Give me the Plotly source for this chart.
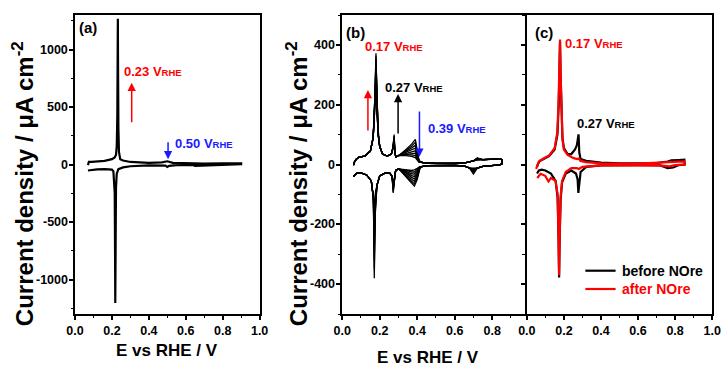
import plotly.graph_objects as go

# ---------------- Panel (a): single CV ----------------
a_E_anodic = [0.070, 0.075, 0.09, 0.12, 0.16, 0.20, 0.215, 0.222, 0.226, 0.229, 0.231, 0.232,
              0.233, 0.235, 0.238, 0.245, 0.26, 0.30, 0.40, 0.47, 0.50, 0.53, 0.60, 0.70, 0.80, 0.90]
a_j_anodic = [-5, 22, 22, 25, 32, 47, 62, 85, 160, 420, 1000, 1267,
              900, 320, 110, 45, 35, 22, 15, 18, 28, 14, 10, 8, 9, 10]
a_E_cathodic = [0.90, 0.85, 0.75, 0.66, 0.65, 0.64, 0.55, 0.51, 0.50, 0.49, 0.40, 0.30, 0.26,
                0.235, 0.226, 0.222, 0.219, 0.218, 0.217, 0.215, 0.212, 0.208, 0.20, 0.16,
                0.12, 0.09, 0.075, 0.070]
a_j_cathodic = [3, 0, -2, -5, -12, -5, -5, -12, -22, -10, -8, -15, -25,
                -40, -80, -200, -700, -1205, -800, -250, -100, -60, -45, -40,
                -42, -45, -50, -52]

# ---------------- Panel (b): successive cycles ----------------
b_E_anodic_base = [0.060, 0.065, 0.075, 0.09, 0.12, 0.15, 0.165, 0.172, 0.192, 0.20,
                   0.215, 0.24, 0.262, 0.270, 0.281, 0.286, 0.30, 0.43, 0.50,
                   0.60, 0.66, 0.70, 0.75, 0.80, 0.845, 0.852]
b_j_anodic_base = [-2, 8, 18, 25, 28, 45, 90, 170, 100, 60,
                   35, 28, 35, 55, 40, 25, 30, 6, 4,
                   4, 6, 12, 16, 17, 19, 15]
# cycle-dependent anodic points (one value per cycle)
b_E_anodic_var = [0.176, 0.180, 0.185, 0.277, 0.31, 0.34, 0.37, 0.39, 0.40, 0.41, 0.72]
b_F17 = [200, 215, 228, 240, 250, 260, 268, 276]
b_P17 = [260, 285, 305, 322, 337, 350, 362, 372]
b_S17 = [165, 180, 190, 200, 208, 216, 224, 232]
b_P27 = [65, 70, 75, 80, 85, 90, 95, 100]
b_A31 = [34, 33, 33, 32, 32, 31, 31, 30]
b_A34 = [50, 47, 44, 41, 38, 35, 33, 30]
b_A37 = [68, 61, 55, 49, 43, 37, 32, 27]
b_A39 = [84, 74, 64, 55, 46, 38, 30, 23]
b_A40 = [50, 44, 38, 32, 27, 22, 18, 15]
b_A41 = [12, 11, 10, 10, 9, 9, 8, 8]
b_A72 = [22, 21, 20, 19, 18, 17, 16, 15]

b_E_cath_base = [0.852, 0.84, 0.80, 0.75, 0.72, 0.68, 0.65, 0.60, 0.50, 0.45, 0.43,
                 0.30, 0.285, 0.278, 0.266, 0.255, 0.23, 0.20, 0.185, 0.166, 0.155,
                 0.13, 0.10, 0.08, 0.07, 0.06]
b_j_cath_base = [2, -1, -3, -6, -12, -12, -5, -3, -3, -4, -6,
                 -15, -20, -50, -40, -30, -28, -38, -70, -110, -55,
                 -35, -28, -28, -33, -40]
# cycle-dependent cathodic points (one value per cycle)
b_E_cath_var = [0.70, 0.415, 0.40, 0.385, 0.37, 0.34, 0.31, 0.272, 0.176, 0.171]
b_C70 = [-32, -29, -26, -23, -20, -17, -14, -12]
b_C415 = [-12, -11, -10, -9, -8, -8, -7, -7]
b_C40 = [-50, -44, -38, -32, -27, -22, -17, -13]
b_C385 = [-72, -64, -56, -48, -40, -32, -25, -18]
b_C37 = [-62, -56, -49, -43, -37, -31, -25, -20]
b_C34 = [-40, -36, -32, -28, -25, -22, -19, -17]
b_C31 = [-20, -19, -18, -17, -17, -16, -16, -15]
b_C27 = [-62, -67, -72, -77, -82, -87, -91, -95]
b_CF17 = [-100, -110, -120, -130, -140, -150, -160, -170]
b_C17 = [-140, -175, -210, -245, -280, -315, -350, -380]

# ---------------- Panel (c): before / after NOre ----------------
c_before_E = [0.055, 0.06, 0.07, 0.09, 0.12, 0.15, 0.165, 0.172, 0.176, 0.179, 0.182, 0.186,
              0.192, 0.20, 0.22, 0.24, 0.26, 0.27, 0.275, 0.279, 0.283, 0.29, 0.32, 0.40,
              0.50, 0.60, 0.70, 0.76, 0.78, 0.82, 0.85, 0.852,
              0.82, 0.79, 0.76, 0.72, 0.60, 0.40, 0.32, 0.29, 0.282, 0.278, 0.274, 0.265,
              0.24, 0.21, 0.19, 0.182, 0.177, 0.174, 0.171, 0.166, 0.155, 0.13, 0.10,
              0.08, 0.065, 0.055]
c_before_j = [-8, 2, 12, 18, 28, 50, 100, 200, 330, 410, 300, 160,
              90, 55, 35, 35, 50, 65, 85, 101, 40, 18, 12, 6,
              4, 4, 5, 10, 14, 15, 16, 0,
              -2, -10, -12, -3, -2, -3, -8, -25, -60, -95, -50, -30,
              -20, -30, -60, -120, -250, -378, -250, -110, -55, -30, -20,
              -17, -20, -30]
c_after_E = [0.05, 0.055, 0.065, 0.09, 0.12, 0.15, 0.165, 0.172, 0.176, 0.179, 0.182, 0.186,
             0.192, 0.20, 0.22, 0.25, 0.27, 0.28, 0.29, 0.32, 0.40, 0.60, 0.75, 0.78, 0.85,
             0.852,
             0.80, 0.77, 0.70, 0.40, 0.30, 0.28, 0.27, 0.24, 0.21, 0.19, 0.182, 0.177,
             0.174, 0.171, 0.166, 0.155, 0.147, 0.13, 0.117, 0.099, 0.074, 0.056]
c_after_j = [-15, -5, 10, 20, 30, 55, 110, 230, 360, 418, 310, 160,
             85, 50, 32, 22, 18, 20, 12, 8, 4, 3, 6, 9, 10,
             0,
             -2, -6, -2, -3, -8, -15, -12, -12, -25, -55, -110, -240,
             -370, -240, -100, -55, -51, -45, -57, -38, -31, -45]

# tick labels
x_ticks = [0.0, 0.2, 0.4, 0.6, 0.8, 1.0]
x_ticktext = ["0.0", "0.2", "0.4", "0.6", "0.8", "1.0"]
ya_ticks = [-1000, -500, 0, 500, 1000]
ya_ticktext = ["-1000", "-500", "0", "500", "1000"]
yb_ticks = [-400, -200, 0, 200, 400]
yb_ticktext = ["-400", "-200", "0", "200", "400"]

legend_names = ["before NOre", "after NOre"]

FONT = "Liberation Sans, Arial, sans-serif"
W, H = 727, 367
RED, BLUE = "#ff0000", "#1a1aff"

fig = go.Figure()

# panel (a)
fig.add_trace(go.Scatter(x=a_E_anodic + a_E_cathodic, y=a_j_anodic + a_j_cathodic,
                         mode="lines", line=dict(color="black", width=2.2),
                         xaxis="x", yaxis="y", showlegend=False))

# panel (b): one trace per cycle
for k in range(len(b_P17)):
    an_vals = [b_F17[k], b_P17[k], b_S17[k], b_P27[k], b_A31[k], b_A34[k], b_A37[k],
               b_A39[k], b_A40[k], b_A41[k], b_A72[k]]
    an = list(zip(b_E_anodic_base, b_j_anodic_base)) + list(zip(b_E_anodic_var, an_vals))
    an.sort(key=lambda p: p[0])
    ca_vals = [b_C70[k], b_C415[k], b_C40[k], b_C385[k], b_C37[k], b_C34[k], b_C31[k],
               b_C27[k], b_CF17[k], b_C17[k]]
    ca = list(zip(b_E_cath_base, b_j_cath_base)) + list(zip(b_E_cath_var, ca_vals))
    ca.sort(key=lambda p: -p[0])
    pts = an + ca
    fig.add_trace(go.Scatter(x=[p[0] for p in pts], y=[p[1] for p in pts],
                             mode="lines", line=dict(color="black", width=1.3),
                             xaxis="x2", yaxis="y2", showlegend=False))

# panel (c)
fig.add_trace(go.Scatter(x=c_before_E, y=c_before_j, mode="lines",
                         line=dict(color="black", width=2.2), name=legend_names[0],
                         xaxis="x3", yaxis="y3", showlegend=False))
fig.add_trace(go.Scatter(x=c_after_E, y=c_after_j, mode="lines",
                         line=dict(color=RED, width=2.2), name=legend_names[1],
                         xaxis="x3", yaxis="y3", showlegend=False))


def px_x(p):
    return p / W


def px_y(p):
    return 1 - p / H


TICKFONT = dict(family=FONT, size=12.5, color="black", weight="bold")
MINOR = dict(ticks="outside", ticklen=2.5, tickwidth=1.2, tickcolor="black", showgrid=False)

common_x = dict(showline=True, linecolor="black", linewidth=1.8, mirror=True,
                ticks="outside", ticklen=4, tickwidth=1.5, tickcolor="black",
                tickvals=x_ticks, ticktext=x_ticktext, showgrid=False, zeroline=False,
                minor=dict(MINOR, dtick=0.1, tick0=0), tickfont=TICKFONT)
common_y = dict(showline=True, linecolor="black", linewidth=1.8,
                ticks="outside", ticklen=4, tickwidth=1.5, tickcolor="black",
                showgrid=False, zeroline=False, showticklabels=False)

dom_y = [px_y(314), px_y(15)]
fig.update_layout(
    width=W, height=H, margin=dict(l=0, r=0, t=0, b=0),
    paper_bgcolor="white", plot_bgcolor="white", showlegend=False,
    xaxis=dict(common_x, domain=[px_x(67.7), px_x(257)], range=[0, 1], anchor="y"),
    yaxis=dict(common_y, domain=dom_y, range=[-1300, 1300], anchor="x", mirror=True,
               tickvals=ya_ticks, minor=dict(MINOR, dtick=250, tick0=0)),
    xaxis2=dict(common_x, domain=[px_x(341.7), px_x(531)], range=[0, 0.985], anchor="y2"),
    yaxis2=dict(common_y, domain=dom_y, range=[-500, 500], anchor="x2", mirror=False,
                tickvals=yb_ticks, minor=dict(MINOR, dtick=100, tick0=0)),
    xaxis3=dict(common_x, domain=[px_x(531), px_x(721)], range=[0, 1], anchor="y3"),
    yaxis3=dict(common_y, domain=dom_y, range=[-500, 500], anchor="x3", mirror=True,
                tickvals=yb_ticks, minor=dict(MINOR, dtick=100, tick0=0)),
)

ann = []
shapes = []

# y tick labels, placed on the axis scales
for yref, x_px, vals, texts in (("y", 63, ya_ticks, ya_ticktext),
                                ("y2", 336, yb_ticks, yb_ticktext)):
    for v, t in zip(vals, texts):
        ann.append(dict(text=t, x=px_x(x_px), y=v, xref="paper", yref=yref,
                        showarrow=False, xanchor="right", yanchor="middle",
                        font=TICKFONT))


def label(text, x, y, xr, yr, color, size=13, xanchor="left"):
    ann.append(dict(text=text, x=x, y=y, xref=xr, yref=yr, showarrow=False,
                    xanchor=xanchor, yanchor="middle",
                    font=dict(family=FONT, size=size, color=color, weight="bold")))


def arrow(x, y_tail, y_head, xr, yr, color):
    ann.append(dict(text="", x=x, y=y_head, ax=x, ay=y_tail, xref=xr, yref=yr,
                    axref=xr, ayref=yr, showarrow=True, arrowhead=2, arrowsize=1.1,
                    arrowwidth=1.5, arrowcolor=color))


def vrhe(v):
    return f"{v} V<span style='font-size:9.5px'>RHE</span>"


# panel (a) labels
label("(a)", 0.012, 1189, "x", "y", "black", size=15)
label(vrhe("0.23"), 0.256, 806, "x", "y", RED)
arrow(0.307, 354, 710, "x", "y", RED)
label(vrhe("0.50"), 0.53, 180, "x", "y", BLUE)
arrow(0.504, 206, 45, "x", "y", BLUE)

# panel (b) labels
label("(b)", 0.007, 442, "x2", "y2", "black", size=15)
label(vrhe("0.17"), 0.111, 396, "x2", "y2", RED)
arrow(0.137, 109, 249, "x2", "y2", RED)
label(vrhe("0.27"), 0.215, 259, "x2", "y2", "black")
arrow(0.298, 99, 236, "x2", "y2", "black")
label(vrhe("0.39"), 0.448, 119, "x2", "y2", BLUE)
arrow(0.412, 182, 26, "x2", "y2", BLUE)

# panel (c) labels
label("(c)", 0.032, 442, "x3", "y3", "black", size=15)
label(vrhe("0.17"), 0.195, 406, "x3", "y3", RED)
label(vrhe("0.27"), 0.258, 136, "x3", "y3", "black")

# legend of panel (c)
for name, color, yp in ((legend_names[0], "black", 270.7), (legend_names[1], RED, 289)):
    shapes.append(dict(type="line", xref="paper", yref="paper",
                       x0=px_x(591), x1=px_x(622), y0=px_y(yp), y1=px_y(yp),
                       line=dict(color=color, width=2.2)))
    ann.append(dict(text=name, x=px_x(626), y=px_y(yp), xref="paper", yref="paper",
                    showarrow=False, xanchor="left", yanchor="middle",
                    font=dict(family=FONT, size=14, color=color, weight="bold")))

# axis titles
ytitle = "Current density / μA cm<sup>-2</sup>"
for xp in (14.5, 295.5):
    ann.append(dict(text=ytitle, x=px_x(xp), y=px_y(184), xref="paper", yref="paper",
                    showarrow=False, textangle=-90, xanchor="center", yanchor="middle",
                    font=dict(family=FONT, size=24, color="black", weight="bold")))
for xp, yp in ((162, 350), (430, 357)):
    ann.append(dict(text="E vs RHE / V", x=px_x(xp), y=px_y(yp), xref="paper", yref="paper",
                    showarrow=False, xanchor="center", yanchor="middle",
                    font=dict(family=FONT, size=17, color="black", weight="bold")))

fig.update_layout(annotations=ann, shapes=shapes)
fig.write_html("out.html")
